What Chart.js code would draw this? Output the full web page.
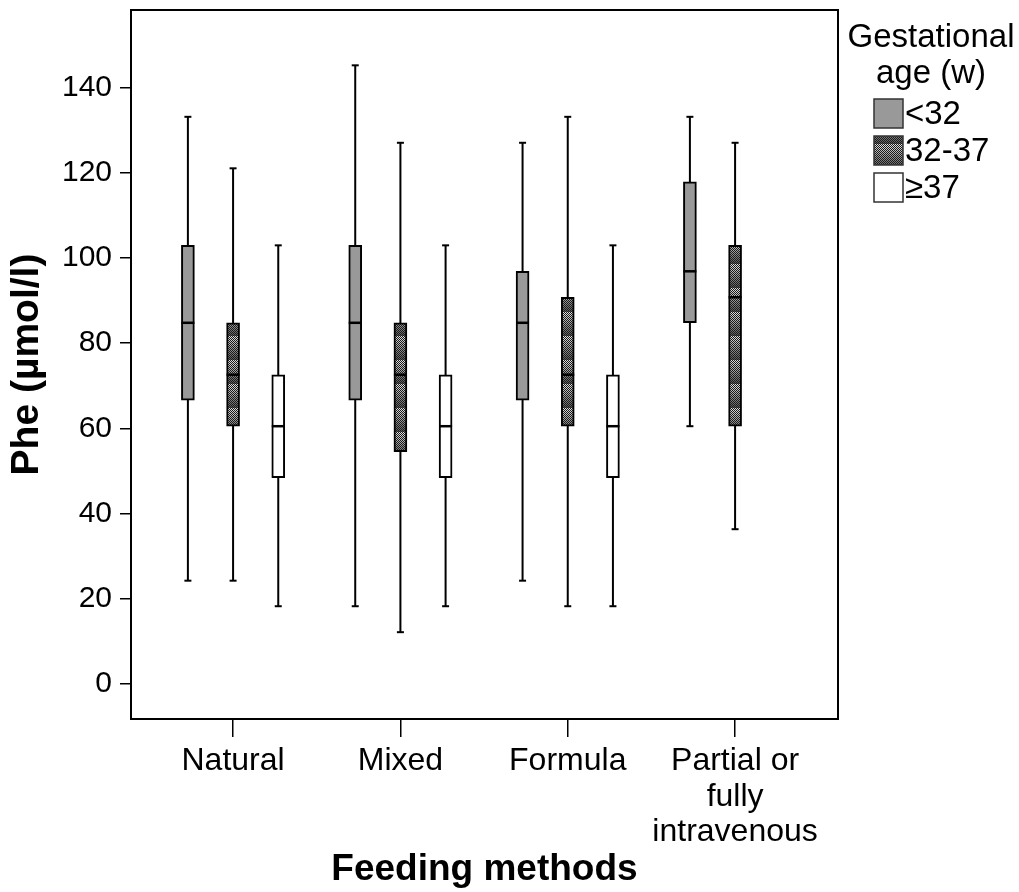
<!DOCTYPE html>
<html>
<head>
<meta charset="utf-8">
<script src="https://cdn.jsdelivr.net/npm/chart.js@4"></script>
<style>
    html, body { margin: 0; padding: 0; background: #fff; }
    #wrap { width: 1019px; height: 892px; }
</style>
</head>
<body>
<div id="wrap"><canvas id="phe" width="1019" height="892"></canvas></div>
<script>
// Categories and groups
const categories = ['Natural', 'Mixed', 'Formula', ['Partial or', 'fully', 'intravenous']];
const groups = ['<32', '32-37', '\u226537'];
const groupOffsets = [-0.27, 0, 0.27];
const yTicks = [0, 20, 40, 60, 80, 100, 120, 140];

// <32 weeks
const lt32Min    = [24.2, 18.2, 24.2, 60.5];
const lt32Q1     = [66.6, 66.6, 66.6, 84.8];
const lt32Median = [84.8, 84.8, 84.8, 96.9];
const lt32Q3     = [103.0, 103.0, 96.9, 117.9];
const lt32Max    = [133.2, 145.3, 127.1, 133.2];

// 32-37 weeks
const midMin    = [24.2, 12.1, 18.2, 36.3];
const midQ1     = [60.5, 54.5, 60.5, 60.5];
const midMedian = [72.6, 72.6, 72.6, 90.8];
const midQ3     = [84.8, 84.8, 90.8, 103.0];
const midMax    = [121.1, 127.1, 133.2, 127.1];

// >=37 weeks (no intravenous group)
const termMin    = [18.2, 18.2, 18.2, null];
const termQ1     = [48.4, 48.4, 48.4, null];
const termMedian = [60.5, 60.5, 60.5, null];
const termQ3     = [72.6, 72.6, 72.6, null];
const termMax    = [103.0, 103.0, 103.0, null];

const stats = [
    { min: lt32Min, q1: lt32Q1, med: lt32Median, q3: lt32Q3, max: lt32Max },
    { min: midMin, q1: midQ1, med: midMedian, q3: midQ3, max: midMax },
    { min: termMin, q1: termQ1, med: termMedian, q3: termQ3, max: termMax }
];

// stippled fill for the 32-37 group
function makeStipple() {
    const c = document.createElement('canvas');
    c.width = 4; c.height = 24;
    const g = c.getContext('2d');
    for (let y = 0; y < 24; y++) {
        const shade = Math.round(225 - y * 6);
        for (let x = 0; x < 4; x++) {
            g.fillStyle = (x + y) % 2 === 0 ? '#1a1a1a' : `rgb(${shade},${shade},${shade})`;
            g.fillRect(x, y, 1, 1);
        }
    }
    return c;
}
const ctx = document.getElementById('phe').getContext('2d');
const stipple = ctx.createPattern(makeStipple(), 'repeat');
const fills = ['#999999', stipple, '#ffffff'];

Chart.defaults.font.family = '"Liberation Sans", Arial, sans-serif';
Chart.defaults.color = '#000';

function boxData(g) {
    const s = stats[g];
    const out = [];
    categories.forEach((c, i) => {
        if (s.q1[i] == null) return;
        out.push({ x: i + groupOffsets[g], y: [s.q1[i], s.q3[i]], idx: i });
    });
    return out;
}

const boxPlugin = {
    id: 'boxWhiskers',
    beforeDatasetsDraw(chart) {
        const c = chart.ctx, ys = chart.scales.y;
        c.save();
        c.strokeStyle = '#000';
        c.lineWidth = 2;
        chart.data.datasets.forEach((ds, d) => {
            chart.getDatasetMeta(d).data.forEach((bar, j) => {
                const i = ds.data[j].idx;
                c.beginPath();
                c.moveTo(bar.x, ys.getPixelForValue(stats[d].max[i]));
                c.lineTo(bar.x, ys.getPixelForValue(stats[d].min[i]));
                c.stroke();
            });
        });
        c.restore();
    },
    afterDatasetsDraw(chart) {
        const c = chart.ctx, ys = chart.scales.y;
        c.save();
        c.strokeStyle = '#000';
        chart.data.datasets.forEach((ds, d) => {
            chart.getDatasetMeta(d).data.forEach((bar, j) => {
                const i = ds.data[j].idx;
                c.lineWidth = 2;
                [stats[d].min[i], stats[d].max[i]].forEach(v => {
                    const py = ys.getPixelForValue(v);
                    c.beginPath();
                    c.moveTo(bar.x - 3.5, py);
                    c.lineTo(bar.x + 3.5, py);
                    c.stroke();
                });
                c.lineWidth = 2.5;
                const pm = ys.getPixelForValue(stats[d].med[i]);
                c.beginPath();
                c.moveTo(bar.x - bar.width / 2, pm);
                c.lineTo(bar.x + bar.width / 2, pm);
                c.stroke();
            });
        });
        c.restore();
    },
    afterDraw(chart) {
        const c = chart.ctx, a = chart.chartArea;
        c.save();
        // frame
        c.strokeStyle = '#000';
        c.lineWidth = 2;
        c.strokeRect(a.left, a.top, a.right - a.left, a.bottom - a.top);
        // legend
        c.fillStyle = '#000';
        c.font = '33px "Liberation Sans", Arial, sans-serif';
        c.textAlign = 'center';
        c.textBaseline = 'middle';
        c.fillText('Gestational', 931, 38);
        c.fillText('age (w)', 931, 74);
        c.textAlign = 'left';
        groups.forEach((g, k) => {
            const top = 99 + k * 37;
            c.fillStyle = fills[k];
            c.fillRect(874, top, 29, 29);
            c.lineWidth = 1.5;
            c.strokeStyle = '#333';
            c.strokeRect(874, top, 29, 29);
            c.fillStyle = '#000';
            c.fillText(g, 905, top + 16);
        });
        c.restore();
    }
};

new Chart(ctx, {
    type: 'bar',
    data: {
        datasets: groups.map((g, k) => ({
            label: g,
            data: boxData(k),
            backgroundColor: fills[k],
            borderColor: '#000',
            borderWidth: 2,
            borderSkipped: false,
            barThickness: 13,
            grouped: false
        }))
    },
    options: {
        responsive: false,
        animation: false,
        layout: { padding: { left: 0, top: 10, right: 181, bottom: 0 } },
        plugins: { legend: { display: false }, tooltip: { enabled: false } },
        scales: {
            x: {
                type: 'linear',
                offset: false,
                min: -0.61,
                max: 3.615,
                afterBuildTicks: scale => { scale.ticks = categories.map((c, i) => ({ value: i })); },
                afterFit: scale => { scale.height = 173; scale.paddingLeft = 0; scale.paddingRight = 0; },
                ticks: {
                    autoSkip: false,
                    maxRotation: 0,
                    padding: 7,
                    font: { size: 32, lineHeight: 1.1 },
                    callback: (v, i) => categories[i]
                },
                grid: { offset: false, drawOnChartArea: false, tickLength: 18, color: '#000', lineWidth: 1.5 },
                border: { display: false },
                title: {
                    display: true,
                    text: 'Feeding methods',
                    font: { size: 37, weight: 'bold' },
                    padding: 0
                }
            },
            y: {
                min: -8.3,
                max: 158.3,
                afterBuildTicks: scale => { scale.ticks = yTicks.map(v => ({ value: v })); },
                afterFit: scale => { scale.width = 131; scale.paddingTop = 0; scale.paddingBottom = 0; },
                ticks: { padding: 8, font: { size: 30 } },
                grid: { drawOnChartArea: false, tickLength: 11, color: '#000', lineWidth: 1.5 },
                border: { display: false },
                title: {
                    display: true,
                    text: 'Phe (\u00b5mol/l)',
                    font: { size: 39, weight: 'bold' },
                    padding: { top: 4, bottom: 0 }
                }
            }
        }
    },
    plugins: [boxPlugin]
});
</script>
</body>
</html>
